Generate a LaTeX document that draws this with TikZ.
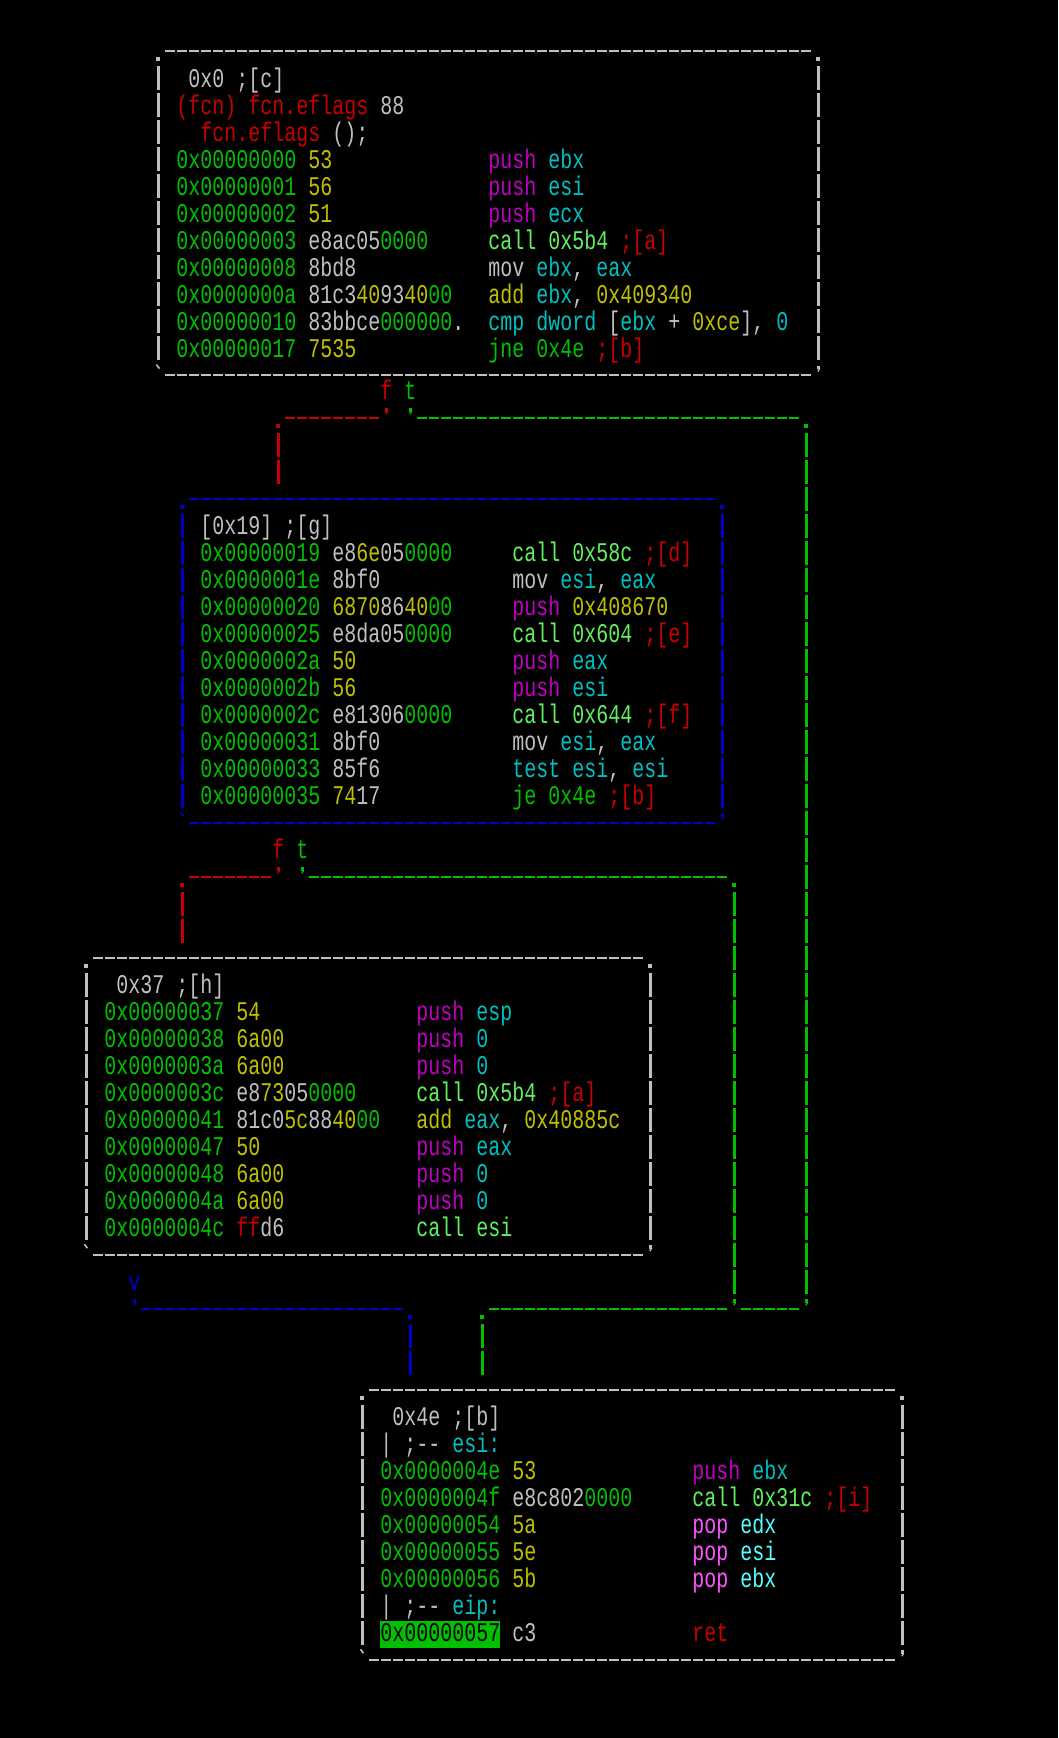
\documentclass[tikz,border=0pt]{standalone}
\usepackage{fontspec}
\newfontfamily\term[FakeStretch=0.7406]{Liberation Mono}
\definecolor{cgray}{RGB}{192,192,192}
\definecolor{cgreen}{RGB}{0,192,0}
\definecolor{cyellow}{RGB}{192,192,0}
\definecolor{cmag}{RGB}{192,0,192}
\definecolor{ccyan}{RGB}{0,192,192}
\definecolor{clgreen}{RGB}{96,240,96}
\definecolor{cred}{RGB}{200,0,0}
\definecolor{cpink}{RGB}{255,85,255}
\definecolor{caqua}{RGB}{85,255,255}
\definecolor{cblue}{RGB}{0,0,200}

% coloured runs of terminal text
\newcommand\Gy[1]{\textcolor{cgray}{#1}}
\newcommand\Gn[1]{\textcolor{cgreen}{#1}}
\newcommand\Yl[1]{\textcolor{cyellow}{#1}}
\newcommand\Mg[1]{\textcolor{cmag}{#1}}
\newcommand\Cy[1]{\textcolor{ccyan}{#1}}
\newcommand\Lg[1]{\textcolor{clgreen}{#1}}
\newcommand\Rd[1]{\textcolor{cred}{#1}}
\newcommand\Pk[1]{\textcolor{cpink}{#1}}
\newcommand\Aq[1]{\textcolor{caqua}{#1}}

\tikzset{
  txt/.style={anchor=base west, inner sep=0pt, outer sep=0pt, text=cgray,
    font=\term\fontsize{27}{27}\selectfont},
  hrun/.style={line width=2.2pt, dash pattern=on 10pt off 2pt},
  vrun/.style={line width=2.2pt, dash pattern=on 24pt off 3pt},
  boxarea/.style={draw=none, inner sep=0pt, outer sep=0pt, rectangle}
}

% one text line: name, column, row, text
\newcommand\codeline[4]{\node[txt] (#1) at ({#2-0.5},{#3+1/3}) {#4};}
% one disassembly line: name, column, row, address+bytes, instruction
\newcommand\insline[5]{\node[txt] (#1) at ({#2-0.5},{#3+1/3}) {\makebox[312pt][l]{#4}#5};}

% corner and joint marks
\newcommand\dotmark[2]{\fill[#2] ([shift={(-2pt,-10pt)}]#1) rectangle ([shift={(2pt,-6pt)}]#1);}
\newcommand\qmark[2]{%
  \fill[#2] ([shift={(-1pt,6pt)}]#1) rectangle ([shift={(2pt,9.5pt)}]#1);
  \draw[#2, line width=1.3pt] ([shift={(1.4pt,6.5pt)}]#1) -- ([shift={(-0.6pt,3.5pt)}]#1);}
\newcommand\bqmark[2]{\draw[#2, line width=1.6pt] ([shift={(-2pt,10.5pt)}]#1) -- ([shift={(1pt,6.5pt)}]#1);}

% framed block: name, left col, right col, top row, bottom row, colour
\newcommand\asciibox[6]{%
  \node[boxarea, minimum width={(#3-#2)*12pt}, minimum height={(#5-#4)*27pt}] (#1) at ({(#2+#3)/2},{(#4+#5)/2}) {};
  \draw[hrun,#6] ([xshift=7pt]#1.north west) -- ([xshift=-7pt]#1.north east);
  \draw[hrun,#6] ([xshift=7pt]#1.south west) -- ([xshift=-7pt]#1.south east);
  \draw[vrun,#6] ([yshift=-15pt]#1.north west) -- ([yshift=15pt]#1.south west);
  \draw[vrun,#6] ([yshift=-15pt]#1.north east) -- ([yshift=15pt]#1.south east);
  \dotmark{#1.north west}{#6}
  \dotmark{#1.north east}{#6}
  \bqmark{#1.south west}{#6}
  \qmark{#1.south east}{#6}
}

\begin{document}
\begin{tikzpicture}[x=12pt,y=-27pt]
\useasboundingbox (-1.2,-0.47037) rectangle (86.9667,63.9);
\fill[black] (-1.2,-0.47037) rectangle (86.9667,63.9);

% ---------- block 0x0 ----------
\asciibox{b1}{12}{67}{1.42}{13.42}{cgray}
\codeline{b1h1}{15}{2.42}{\Gy{0x0 ;[c]}}
\codeline{b1h2}{14}{3.42}{\Rd{(fcn) fcn.eflags} \Gy{88}}
\codeline{b1h3}{16}{4.42}{\Rd{fcn.eflags} \Gy{();}}
\insline{b1i1}{14}{5.42}{\Gn{0x00000000} \Yl{53}}{\Mg{push} \Cy{ebx}}
\insline{b1i2}{14}{6.42}{\Gn{0x00000001} \Yl{56}}{\Mg{push} \Cy{esi}}
\insline{b1i3}{14}{7.42}{\Gn{0x00000002} \Yl{51}}{\Mg{push} \Cy{ecx}}
\insline{b1i4}{14}{8.42}{\Gn{0x00000003} \Gy{e8ac05}\Gn{0000}}{\Lg{call 0x5b4} \Rd{;[a]}}
\insline{b1i5}{14}{9.42}{\Gn{0x00000008} \Gy{8bd8}}{\Gy{mov} \Cy{ebx}\Gy{,} \Cy{eax}}
\insline{b1i6}{14}{10.42}{\Gn{0x0000000a} \Gy{81c3}\Yl{40}\Gy{93}\Yl{40}\Gn{00}}{\Yl{add} \Cy{ebx}\Gy{,} \Yl{0x409340}}
\insline{b1i7}{14}{11.42}{\Gn{0x00000010} \Gy{83bbce}\Gn{000000}\Gy{.}}{\Cy{cmp dword} \Gy{[}\Cy{ebx} \Gy{+} \Yl{0xce}\Gy{],} \Cy{0}}
\insline{b1i8}{14}{12.42}{\Gn{0x00000017} \Yl{7535}}{\Gn{jne 0x4e} \Rd{;[b]}}

% ---------- block 0x19 ----------
\asciibox{b2}{14}{59}{18}{30}{cblue}
\codeline{b2h1}{16}{19}{\Gy{[0x19] ;[g]}}
\insline{b2i1}{16}{20}{\Gn{0x00000019} \Gy{e8}\Yl{6e}\Gy{05}\Gn{0000}}{\Lg{call 0x58c} \Rd{;[d]}}
\insline{b2i2}{16}{21}{\Gn{0x0000001e} \Gy{8bf0}}{\Gy{mov} \Cy{esi}\Gy{,} \Cy{eax}}
\insline{b2i3}{16}{22}{\Gn{0x00000020} \Yl{6870}\Gy{86}\Yl{40}\Gn{00}}{\Mg{push} \Yl{0x408670}}
\insline{b2i4}{16}{23}{\Gn{0x00000025} \Gy{e8da05}\Gn{0000}}{\Lg{call 0x604} \Rd{;[e]}}
\insline{b2i5}{16}{24}{\Gn{0x0000002a} \Yl{50}}{\Mg{push} \Cy{eax}}
\insline{b2i6}{16}{25}{\Gn{0x0000002b} \Yl{56}}{\Mg{push} \Cy{esi}}
\insline{b2i7}{16}{26}{\Gn{0x0000002c} \Gy{e81306}\Gn{0000}}{\Lg{call 0x644} \Rd{;[f]}}
\insline{b2i8}{16}{27}{\Gn{0x00000031} \Gy{8bf0}}{\Gy{mov} \Cy{esi}\Gy{,} \Cy{eax}}
\insline{b2i9}{16}{28}{\Gn{0x00000033} \Gy{85f6}}{\Cy{test esi}\Gy{,} \Cy{esi}}
\insline{b2i10}{16}{29}{\Gn{0x00000035} \Yl{74}\Gy{17}}{\Gn{je 0x4e} \Rd{;[b]}}

% ---------- block 0x37 ----------
\asciibox{b3}{6}{53}{35}{46}{cgray}
\codeline{b3h1}{9}{36}{\Gy{0x37 ;[h]}}
\insline{b3i1}{8}{37}{\Gn{0x00000037} \Yl{54}}{\Mg{push} \Cy{esp}}
\insline{b3i2}{8}{38}{\Gn{0x00000038} \Yl{6a00}}{\Mg{push} \Cy{0}}
\insline{b3i3}{8}{39}{\Gn{0x0000003a} \Yl{6a00}}{\Mg{push} \Cy{0}}
\insline{b3i4}{8}{40}{\Gn{0x0000003c} \Gy{e8}\Yl{73}\Gy{05}\Gn{0000}}{\Lg{call 0x5b4} \Rd{;[a]}}
\insline{b3i5}{8}{41}{\Gn{0x00000041} \Gy{81c0}\Yl{5c}\Gy{88}\Yl{40}\Gn{00}}{\Yl{add} \Cy{eax}\Gy{,} \Yl{0x40885c}}
\insline{b3i6}{8}{42}{\Gn{0x00000047} \Yl{50}}{\Mg{push} \Cy{eax}}
\insline{b3i7}{8}{43}{\Gn{0x00000048} \Yl{6a00}}{\Mg{push} \Cy{0}}
\insline{b3i8}{8}{44}{\Gn{0x0000004a} \Yl{6a00}}{\Mg{push} \Cy{0}}
\insline{b3i9}{8}{45}{\Gn{0x0000004c} \Rd{ff}\Gy{d6}}{\Lg{call esi}}

% ---------- block 0x4e ----------
\asciibox{b4}{29}{74}{51}{61}{cgray}
\node[fill=cgreen, inner sep=0pt, outer sep=0pt, minimum width=120pt, minimum height=27pt, anchor=north west] (hl) at (30.5,{60-12/27}) {};
\codeline{b4h1}{32}{52}{\Gy{0x4e ;[b]}}
\codeline{b4h2}{31}{53}{\Gy{| ;-{}-} \Cy{esi:}}
\insline{b4i1}{31}{54}{\Gn{0x0000004e} \Yl{53}}{\Mg{push} \Cy{ebx}}
\insline{b4i2}{31}{55}{\Gn{0x0000004f} \Gy{e8c802}\Gn{0000}}{\Lg{call 0x31c} \Rd{;[i]}}
\insline{b4i3}{31}{56}{\Gn{0x00000054} \Yl{5a}}{\Pk{pop} \Aq{edx}}
\insline{b4i4}{31}{57}{\Gn{0x00000055} \Yl{5e}}{\Pk{pop} \Aq{esi}}
\insline{b4i5}{31}{58}{\Gn{0x00000056} \Yl{5b}}{\Pk{pop} \Aq{ebx}}
\codeline{b4h3}{31}{59}{\Gy{| ;-{}-} \Cy{eip:}}
\insline{b4i6}{31}{60}{\textcolor{black}{0x00000057} \Gy{c3}}{\Rd{ret}}

% ---------- edges out of 0x0 ----------
\codeline{f1}{31}{14}{\Rd{f}}
\codeline{t1}{33}{14}{\Gn{t}}
\coordinate (f1k) at (31,15);
\coordinate (t1k) at (33,15);
\coordinate (f1c) at (22,15);
\coordinate (t1c) at (66,15);
\qmark{f1k}{cred}
\qmark{t1k}{cgreen}
\draw[hrun,cred] ([xshift=-7pt]f1k) -- ([xshift=7pt]f1c);
\dotmark{f1c}{cred}
\coordinate (f1e) at (f1c |- b2.north);
\draw[vrun,cred] ([yshift=-15pt]f1c) -- ([yshift=15pt]f1e);

\draw[hrun,cgreen] ([xshift=7pt]t1k) -- ([xshift=-7pt]t1c);
\dotmark{t1c}{cgreen}
\coordinate (m66) at (66,48);
\coordinate (m60) at (60,48);
\coordinate (m39) at (39,48);
\draw[vrun,cgreen] ([yshift=-15pt]t1c) -- ([yshift=15pt]m66);
\qmark{m66}{cgreen}
\draw[hrun,cgreen] ([xshift=-7pt]m66) -- ([xshift=7pt]m60);
\draw[hrun,cgreen] ([xshift=-7pt]m60) -- ([xshift=7pt]m39);
\dotmark{m39}{cgreen}
\coordinate (m39e) at (m39 |- b4.north);
\draw[vrun,cgreen] ([yshift=-15pt]m39) -- ([yshift=15pt]m39e);

% ---------- edges out of 0x19 ----------
\codeline{f2}{22}{31}{\Rd{f}}
\codeline{t2}{24}{31}{\Gn{t}}
\coordinate (f2k) at (22,32);
\coordinate (t2k) at (24,32);
\coordinate (f2c) at (14,32);
\coordinate (t2c) at (60,32);
\qmark{f2k}{cred}
\qmark{t2k}{cgreen}
\draw[hrun,cred] ([xshift=-7pt]f2k) -- ([xshift=7pt]f2c);
\dotmark{f2c}{cred}
\coordinate (f2e) at (f2c |- b3.north);
\draw[vrun,cred] ([yshift=-15pt]f2c) -- ([yshift=15pt]f2e);

\draw[hrun,cgreen] ([xshift=7pt]t2k) -- ([xshift=-7pt]t2c);
\dotmark{t2c}{cgreen}
\draw[vrun,cgreen] ([yshift=-15pt]t2c) -- ([yshift=15pt]m60);
\qmark{m60}{cgreen}

% ---------- edge out of 0x37 ----------
\codeline{v3}{10}{47}{\textcolor{cblue}{v}}
\coordinate (v3k) at (10,48);
\coordinate (v3c) at (33,48);
\qmark{v3k}{cblue}
\draw[hrun,cblue] ([xshift=7pt]v3k) -- ([xshift=-7pt]v3c);
\dotmark{v3c}{cblue}
\coordinate (v3e) at (v3c |- b4.north);
\draw[vrun,cblue] ([yshift=-15pt]v3c) -- ([yshift=15pt]v3e);
\end{tikzpicture}
\end{document}
